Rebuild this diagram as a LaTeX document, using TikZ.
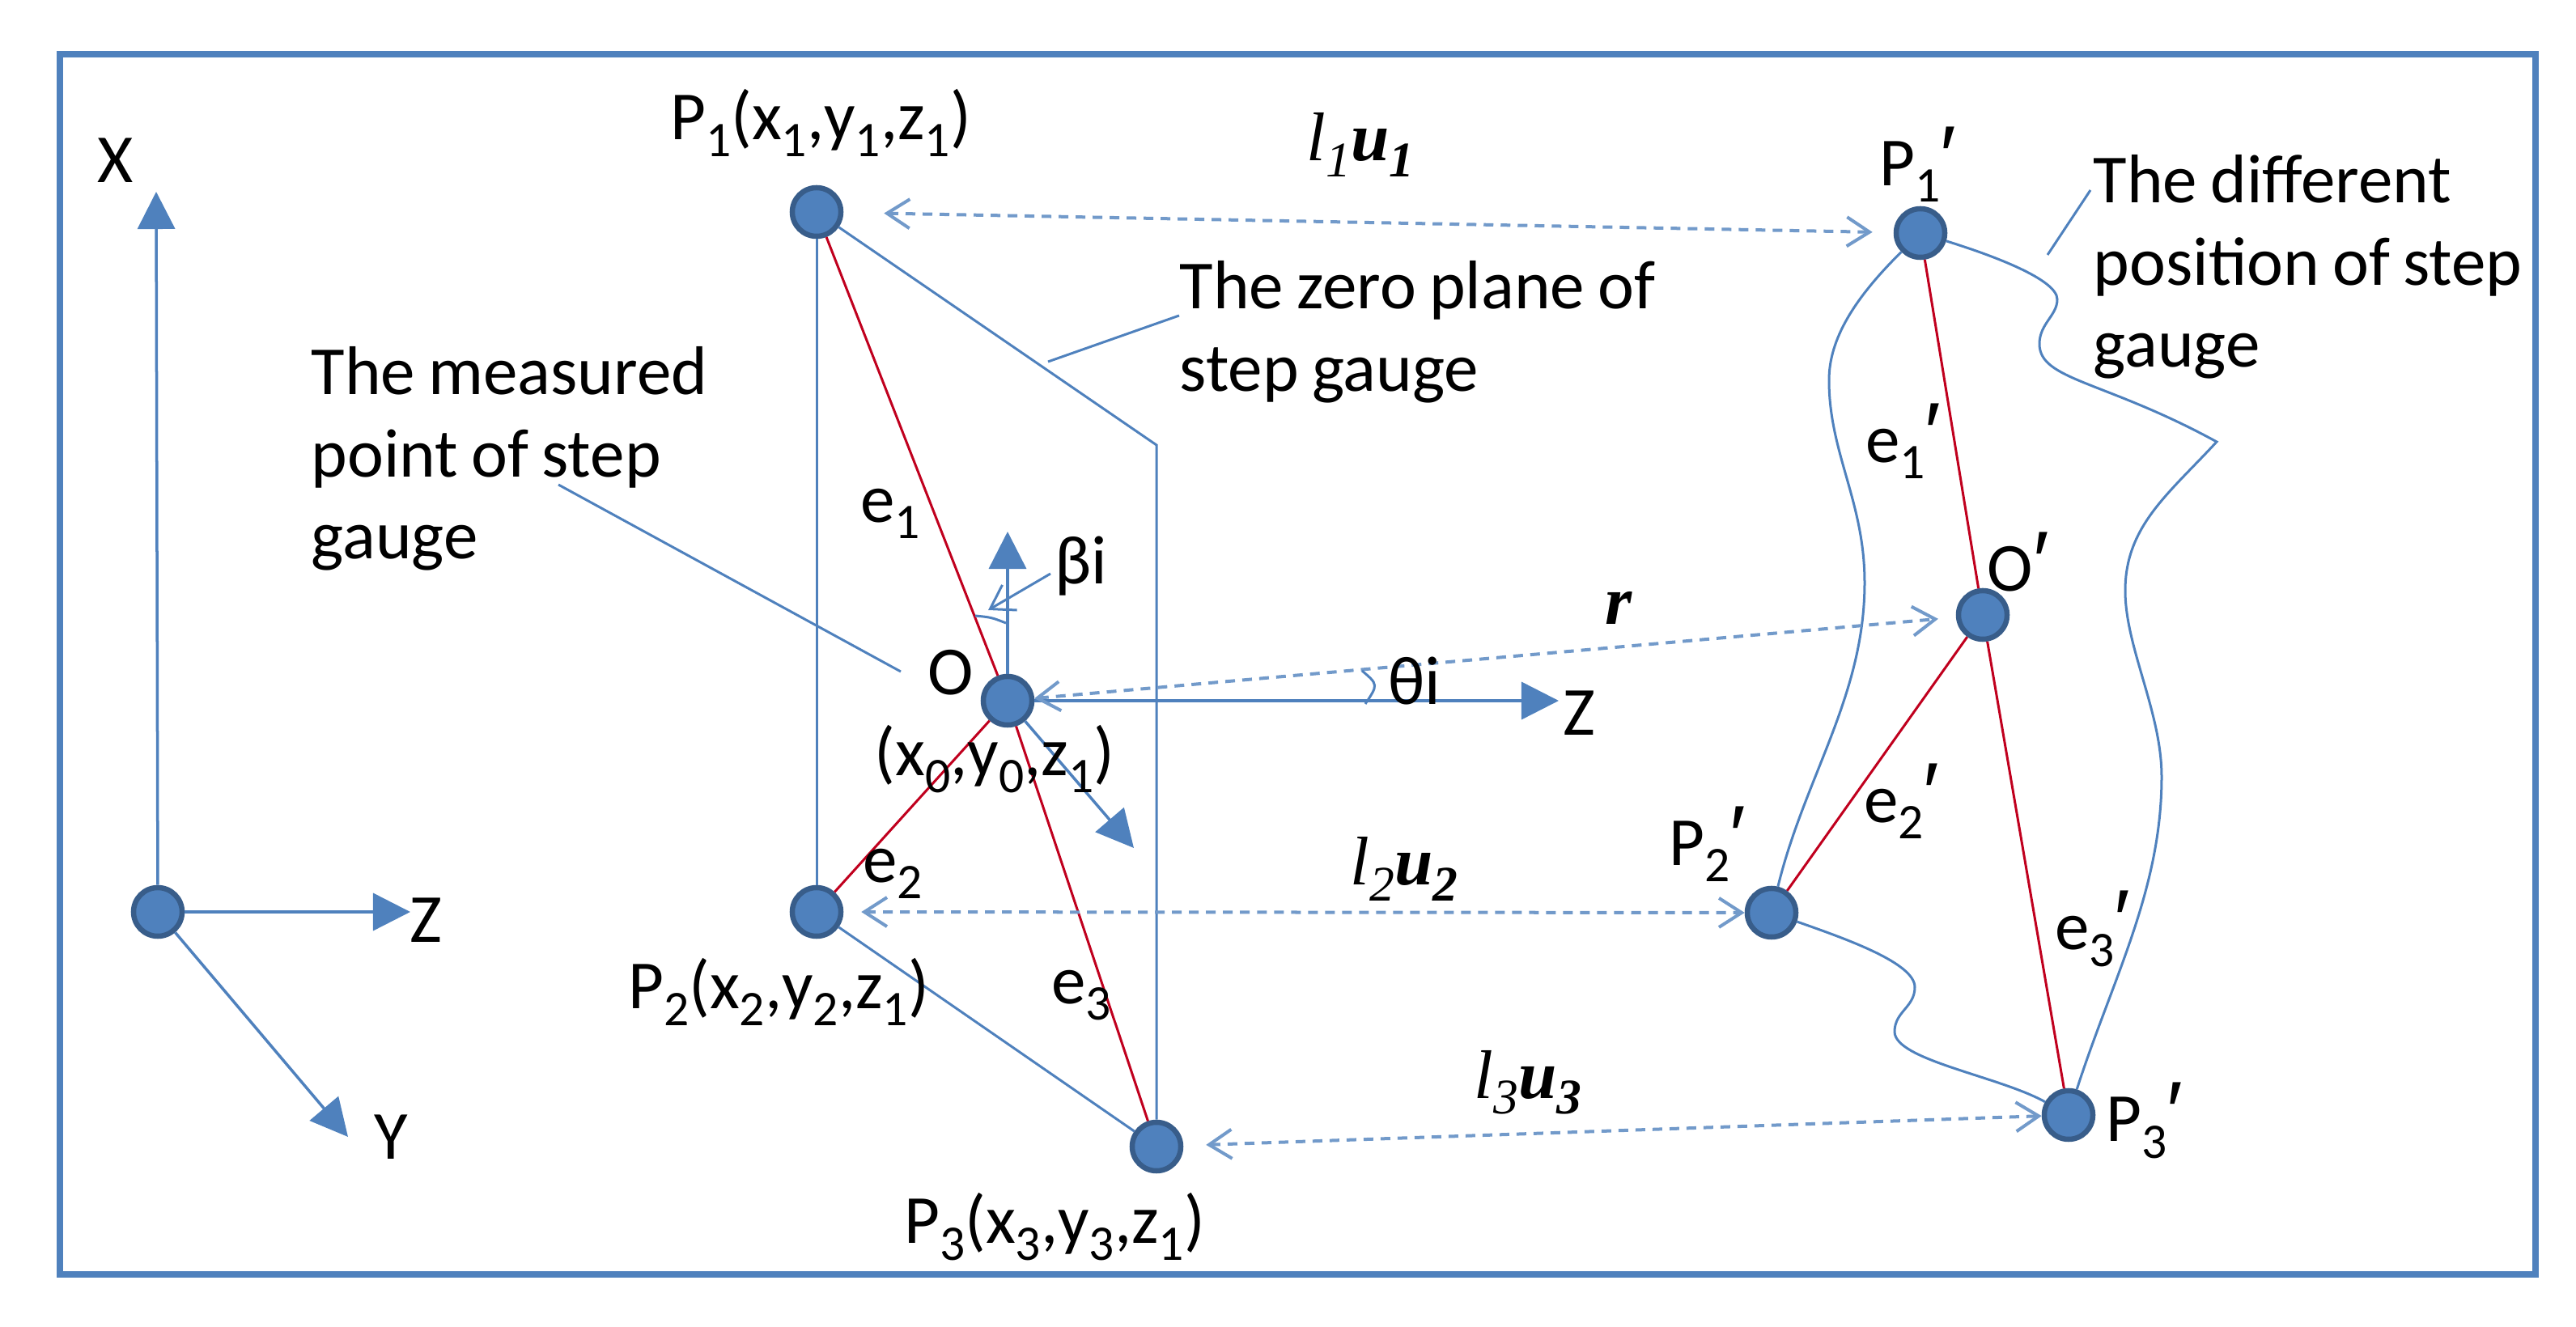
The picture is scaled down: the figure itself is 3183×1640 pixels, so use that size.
\documentclass[tikz,border=0pt]{standalone}
\usepackage{fontspec}
\setmainfont{Carlito}[WordSpace=0.85]
\newfontfamily\serifbi{Liberation Serif}[BoldItalicFont={Liberation Serif Bold Italic}]
\newfontfamily\primefont{Liberation Sans}
\usetikzlibrary{arrows.meta}
\definecolor{boxblue}{RGB}{79,129,189}
\definecolor{ringblue}{RGB}{56,93,138}
\definecolor{edgered}{RGB}{192,0,30}
\newcommand{\lowsub}[1]{\raisebox{-.5ex}{\fontsize{17.5}{17.5}\selectfont #1}}
\newcommand{\tick}{{\primefont\fontsize{30}{30}\selectfont ′}}
\newcommand{\lenvec}[1]{{\serifbi\itshape l\lowsub{#1}\bfseries u\lowsub{#1}}}
\tikzset{
	dot/.style={circle, fill=boxblue, draw=ringblue, line width=.065cm, minimum size=.6cm, inner sep=0pt},
	lbl/.style={inner sep=0pt, align=left, font=\fontsize{24.2}{28.9}\selectfont},
	blueline/.style={boxblue, line width=.03cm},
	redline/.style={edgered, line width=.03cm},
	axisarrow/.style={boxblue, line width=.035cm, -{Triangle[length=.46cm, width=.46cm]}},
	gaparrow/.style={boxblue!80, line width=.04cm, dash pattern=on .12cm off .09cm,
		{Straight Barb[length=.28cm, width=.36cm]}-{Straight Barb[length=.28cm, width=.36cm]}}
}
\begin{document}
\begin{tikzpicture}[x=.01cm, y=-.01cm]
	\useasboundingbox (0,0) rectangle (3183,1640);
	\node[draw=boxblue, line width=.08cm, minimum width=30.57cm, minimum height=15.08cm, inner sep=0pt] (frame) at (1603.5,821) {};
	
	% Points of the gauge and its moved copy
	\foreach \name/\x/\y in {base/195/1127, Pa/1009/262, Pb/1009/1127, Pc/1429/1417, O/1245/866,
		Pap/2373/288, Pbp/2189/1128, Pcp/2556/1378, Op/2450/760} {
		\node[dot] (\name) at (\x,\y) {};
	}
	
	% Axis end points
	\coordinate (baseX) at (193,237);
	\coordinate (baseZ) at (507,1127);
	\coordinate (baseY) at (430,1405);
	\coordinate (OX) at (1245,657);
	\coordinate (OZ) at (1926,866);
	\coordinate (OY) at (1401,1048);
	\coordinate (planeTop) at (1429,550);
	
	\draw[axisarrow] (base) -- (baseX);
	\draw[axisarrow] (base) -- (baseZ);
	\draw[axisarrow] (base) -- (baseY);
	\draw[axisarrow] (O) -- (OX);
	\draw[axisarrow] (O) -- (OZ);
	\draw[axisarrow] (O) -- (OY);
	
	% Zero plane
	\draw[blueline] (Pa) -- (Pb);
	\draw[blueline] (Pb) -- (Pc);
	\draw[blueline] (Pa) -- (planeTop) -- (Pc);
	
	% Errors
	\draw[redline] (Pa) -- (O);
	\draw[redline] (Pb) -- (O);
	\draw[redline] (Pc) -- (O);
	\draw[redline] (Pap) -- (Op);
	\draw[redline] (Pbp) -- (Op);
	\draw[redline] (Pcp) -- (Op);
	
	% Wavy outline of the moved gauge
	\draw[blueline] (Pap) .. controls (2290,370) and (2260,420) .. (2260,470)
		.. controls (2260,560) and (2304,620) .. (2304,720)
		.. controls (2304,860) and (2230,960) .. (Pbp);
	\draw[blueline] (Pbp) .. controls (2280,1160) and (2366,1190) .. (2366,1220)
		.. controls (2366,1245) and (2341,1250) .. (2341,1275)
		.. controls (2341,1310) and (2470,1330) .. (Pcp);
	\draw[blueline] (Pap) .. controls (2460,315) and (2542,345) .. (2542,370)
		.. controls (2542,390) and (2520,400) .. (2520,425)
		.. controls (2520,470) and (2600,470) .. (2739,546)
		.. controls (2680,610) and (2626,650) .. (2626,730)
		.. controls (2626,800) and (2671,880) .. (2671,960)
		.. controls (2671,1100) and (2610,1210) .. (Pcp);
	
	% Displacements
	\draw[gaparrow, shorten <=.5cm, shorten >=.26cm] (Pa) -- (Pap);
	\draw[gaparrow, shorten <=.22cm] (Pb) -- (Pbp);
	\draw[gaparrow, shorten <=.28cm] (Pc) -- (Pcp);
	\draw[gaparrow, shorten >=.22cm] (O) -- (Op);
	
	% Labels
	\node[lbl] (lblX) at (143,198) {X};
	\node[lbl] (lblZ) at (526,1137) {Z};
	\node[lbl] (lblY) at (483,1405) {Y};
	\node[lbl] (lblPa) at (1014,152) {P\lowsub{1}(x\lowsub{1},y\lowsub{1},z\lowsub{1})};
	\node[lbl] (lblPb) at (962,1226) {P\lowsub{2}(x\lowsub{2},y\lowsub{2},z\lowsub{1})};
	\node[lbl] (lblPc) at (1303,1516) {P\lowsub{3}(x\lowsub{3},y\lowsub{3},z\lowsub{1})};
	\node[lbl] (lblO) at (1175,831) {O};
	\node[lbl] (lblOxyz) at (1229,938) {(x\lowsub{0},y\lowsub{0},z\lowsub{1})};
	\node[lbl] (lblZb) at (1951,881) {Z};
	\node[lbl] (lblBeta) at (1336,700) {βi};
	\node[lbl] (lblTheta) at (1748,842) {θi};
	\node[lbl] (lblEa) at (1100,635) {e\lowsub{1}};
	\node[lbl] (lblEb) at (1103,1080) {e\lowsub{2}};
	\node[lbl] (lblEc) at (1336,1230) {e\lowsub{3}};
	\node[lbl] (lblPap) at (2370,203) {P\lowsub{1}\tick};
	\node[lbl] (lblPbp) at (2110,1043) {P\lowsub{2}\tick};
	\node[lbl] (lblPcp) at (2650,1385) {P\lowsub{3}\tick};
	\node[lbl] (lblOp) at (2494,695) {O\tick};
	\node[lbl] (lblEap) at (2352,545) {e\lowsub{1}\tick};
	\node[lbl] (lblEbp) at (2350,990) {e\lowsub{2}\tick};
	\node[lbl] (lblEcp) at (2586,1148) {e\lowsub{3}\tick};
	\node[lbl] (lblLa) at (1681,179) {\lenvec{1}};
	\node[lbl] (lblLb) at (1735,1074) {\lenvec{2}};
	\node[lbl] (lblLc) at (1888,1338) {\lenvec{3}};
	\node[lbl] (lblR) at (2000,751) {\serifbi\bfseries\itshape r};
	\node[lbl, anchor=west] (lblPlane) at (1457,410) {The zero plane of\\step gauge};
	\node[lbl, anchor=west] (lblPoint) at (384,567) {The measured\\point of step\\gauge};
	\node[lbl, anchor=west] (lblMoved) at (2586,330) {The different\\position of step\\gauge};
	
	% Leaders and small angles
	\coordinate (planeFoot) at (1295,447);
	\coordinate (pointFoot) at (1113,830);
	\coordinate (movedFoot) at (2530,315);
	\coordinate (betaTip) at (1221,754);
	\coordinate (planeHead) at (1457,390);
	\coordinate (pointHead) at (690,599);
	\coordinate (movedHead) at (2583,235);
	\coordinate (betaTail) at (1298,709);
	\draw[blueline] (planeHead) -- (planeFoot);
	\draw[blueline] (pointHead) -- (pointFoot);
	\draw[blueline] (movedHead) -- (movedFoot);
	\draw[blueline, -{Straight Barb[length=.28cm, width=.36cm]}] (betaTail) -- (betaTip);
	\draw[blueline] (1205,761) .. controls (1225,763) .. (1243,770);
	\draw[blueline] (1683,829) .. controls (1703,846) .. (1687,870);
\end{tikzpicture}
\end{document}
